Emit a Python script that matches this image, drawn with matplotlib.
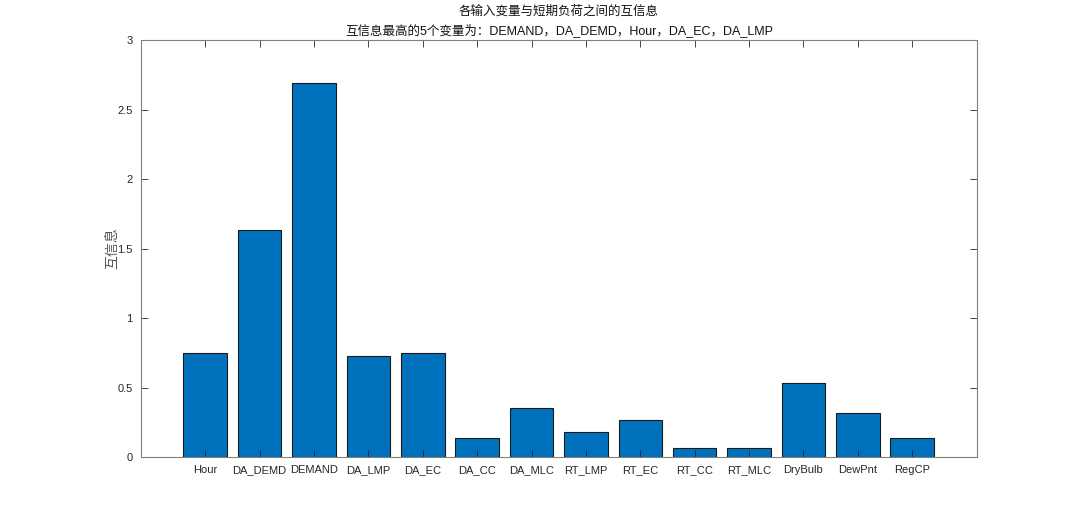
import matplotlib
matplotlib.use("Agg")
from matplotlib import pyplot as plt
import numpy as np

plt.rcParams['font.family'] = ['Noto Sans CJK SC', 'DejaVu Sans']

variables = ['Hour', 'DA_DEMD', 'DEMAND', 'DA_LMP', 'DA_EC', 'DA_CC', 'DA_MLC',
             'RT_LMP', 'RT_EC', 'RT_CC', 'RT_MLC', 'DryBulb', 'DewPnt', 'RegCP']
mutual_info = [0.75, 1.63, 2.69, 0.727, 0.746, 0.134, 0.35,
               0.182, 0.266, 0.067, 0.062, 0.535, 0.32, 0.134]
y_ticks = [0, 0.5, 1, 1.5, 2, 2.5, 3]
y_tick_labels = ['0', '0.5', '1', '1.5', '2', '2.5', '3']

AXIS_GRAY = '#808080'
TEXT_GRAY = '#262626'
LATIN = ['Liberation Sans', 'Noto Sans CJK SC', 'DejaVu Sans']

fig = plt.figure(figsize=(10.8, 5.14), dpi=100)
ax = fig.add_axes([0.1306, 0.1109, 0.7740, 0.8111])

x = np.arange(1, len(variables) + 1)
ax.bar(x, mutual_info, width=0.8, color='#0072BD', edgecolor='#1a1a1a', linewidth=0.8)

ax.set_xlim(1 - 1.18, len(variables) + 1.19)
ax.set_ylim(0, 3)
ax.set_xticks(x)
ax.set_xticklabels(variables, fontsize=8, family=LATIN)
ax.set_yticks(y_ticks)
ax.set_yticklabels(y_tick_labels, fontsize=8, family=LATIN)

ax.tick_params(direction='in', top=True, right=True, length=5, width=0.6,
               colors=TEXT_GRAY, labelcolor=TEXT_GRAY, pad=6)
for tick in ax.xaxis.get_major_ticks() + ax.yaxis.get_major_ticks():
    tick.tick1line.set_color(AXIS_GRAY)
    tick.tick2line.set_color(AXIS_GRAY)
for side in ['left', 'right', 'top', 'bottom']:
    ax.spines[side].set_color(AXIS_GRAY)
    ax.spines[side].set_linewidth(0.8)

ax.set_ylabel('互信息', fontsize=10, color='#555555', labelpad=-1)
ax.set_title('各输入变量与短期负荷之间的互信息\n互信息最高的5个变量为：DEMAND，DA_DEMD，Hour，DA_EC，DA_LMP',
             fontsize=9, color='#111111', pad=4, linespacing=1.5, family=LATIN)

fig.savefig('out.png', dpi=100)
